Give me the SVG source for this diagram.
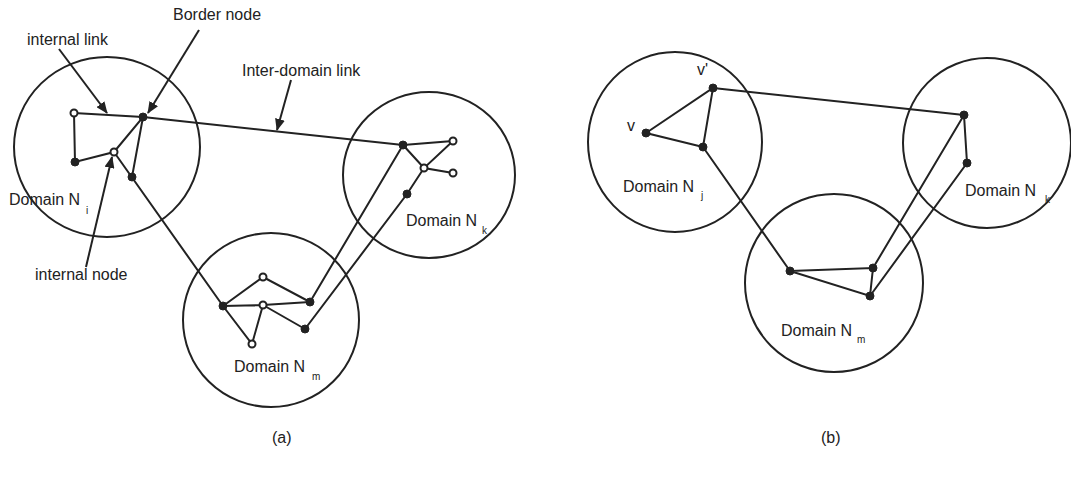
<svg xmlns="http://www.w3.org/2000/svg" width="1071" height="479" viewBox="0 0 1071 479">
<style>
.dom{fill:none;stroke:#222;stroke-width:2}
.ln{stroke:#222;stroke-width:2;fill:none}
.lead{stroke:#222;stroke-width:2;fill:none;marker-end:url(#ah)}
.f{fill:#222;stroke:#222;stroke-width:1}
.o{fill:#fff;stroke:#222;stroke-width:2}
text{font-family:"Liberation Sans",Arial,sans-serif;font-size:16px;fill:#222}
.sub{font-size:10px}
</style>
<defs>
<marker id="ah" markerWidth="12" markerHeight="10" refX="11" refY="5" orient="auto" markerUnits="userSpaceOnUse">
<path d="M0,0 L12,5 L0,10 Z" fill="#222"/>
</marker>
</defs>
<g id="domains">
<ellipse id="Ni" class="dom" cx="107" cy="147" rx="93" ry="90"/>
<ellipse id="Nm_a" class="dom" cx="271" cy="320" rx="88" ry="87"/>
<ellipse id="Nk_a" class="dom" cx="429" cy="175" rx="86" ry="83"/>
<ellipse id="Nj" class="dom" cx="675" cy="142" rx="87" ry="90"/>
<ellipse id="Nm_b" class="dom" cx="834" cy="283" rx="89" ry="89"/>
<ellipse id="Nk_b" class="dom" cx="987" cy="143" rx="84" ry="85"/>
</g>
<g id="connectors">
<path class="ln" d="M74,113 L143,117 M74,113 L75,162 L114,152 L143,117 L132,177 M114,152 L223,306 M143,117 L403,145"/>
<path class="ln" d="M223,306 L263,277 L310,302 M223,306 L263,305 L310,302 M263,305 L305,329 M223,306 L252,344 L263,305"/>
<path class="ln" d="M310,302 L403,145 M305,329 L407,194 L424,168 M403,145 L424,168 M403,145 L453,141 L424,168 L453,173"/>
<path class="ln" d="M646,133 L713,88 L703,147 Z M713,88 L964,115 M703,147 L790,271 M790,271 L873,268 L870,296 L790,271 M873,268 L964,115 L967,163 L870,296"/>
<path class="lead" d="M59,49 L107,113"/>
<path class="lead" d="M199,30 L148,113"/>
<path class="lead" d="M86,267 L112,157"/>
<path class="lead" d="M291,80 L277,130"/>
</g>
<g id="nodes_a">
<circle id="a_o1" class="o" cx="74" cy="113" r="3.5"/>
<circle id="a_b1" class="f" cx="143" cy="117" r="4"/>
<circle id="a_f2" class="f" cx="75" cy="162" r="4"/>
<circle id="a_o2" class="o" cx="114" cy="152" r="3.5"/>
<circle id="a_f3" class="f" cx="132" cy="177" r="4"/>
<circle id="a_m1" class="f" cx="223" cy="306" r="4"/>
<circle id="a_o3" class="o" cx="263" cy="277" r="3.5"/>
<circle id="a_o4" class="o" cx="263" cy="305" r="3.5"/>
<circle id="a_m2" class="f" cx="310" cy="302" r="4"/>
<circle id="a_m3" class="f" cx="305" cy="329" r="4"/>
<circle id="a_o5" class="o" cx="252" cy="344" r="3.5"/>
<circle id="a_k1" class="f" cx="403" cy="145" r="4"/>
<circle id="a_o6" class="o" cx="453" cy="141" r="3.5"/>
<circle id="a_o7" class="o" cx="424" cy="168" r="3.5"/>
<circle id="a_o8" class="o" cx="453" cy="173" r="3.5"/>
<circle id="a_k2" class="f" cx="407" cy="194" r="4"/>
</g>
<g id="nodes_b">
<circle id="b_v" class="f" cx="646" cy="133" r="4"/>
<circle id="b_v2" class="f" cx="713" cy="88" r="4"/>
<circle id="b_j3" class="f" cx="703" cy="147" r="4"/>
<circle id="b_m1" class="f" cx="790" cy="271" r="4"/>
<circle id="b_m2" class="f" cx="873" cy="268" r="4"/>
<circle id="b_m3" class="f" cx="870" cy="296" r="4"/>
<circle id="b_k1" class="f" cx="964" cy="115" r="4"/>
<circle id="b_k2" class="f" cx="967" cy="163" r="4"/>
</g>
<g id="labels">
<text x="27" y="45">internal link</text>
<text x="173" y="20">Border node</text>
<text x="242" y="76">Inter-domain link</text>
<text x="35" y="280">internal node</text>
<text x="9" y="205">Domain N</text><text class="sub" x="86" y="214">i</text>
<text x="234" y="372">Domain N</text><text class="sub" x="312" y="380">m</text>
<text x="406" y="226">Domain N</text><text class="sub" x="482" y="234">k</text>
<text x="697" y="75">v'</text>
<text x="627" y="131">v</text>
<text x="623" y="192">Domain N</text><text class="sub" x="701" y="199">j</text>
<text x="781" y="336">Domain N</text><text class="sub" x="857" y="343">m</text>
<text x="965" y="196">Domain N</text><text class="sub" x="1045" y="203">k</text>
<text x="272" y="443">(a)</text>
<text x="821" y="443">(b)</text>
</g>
</svg>
